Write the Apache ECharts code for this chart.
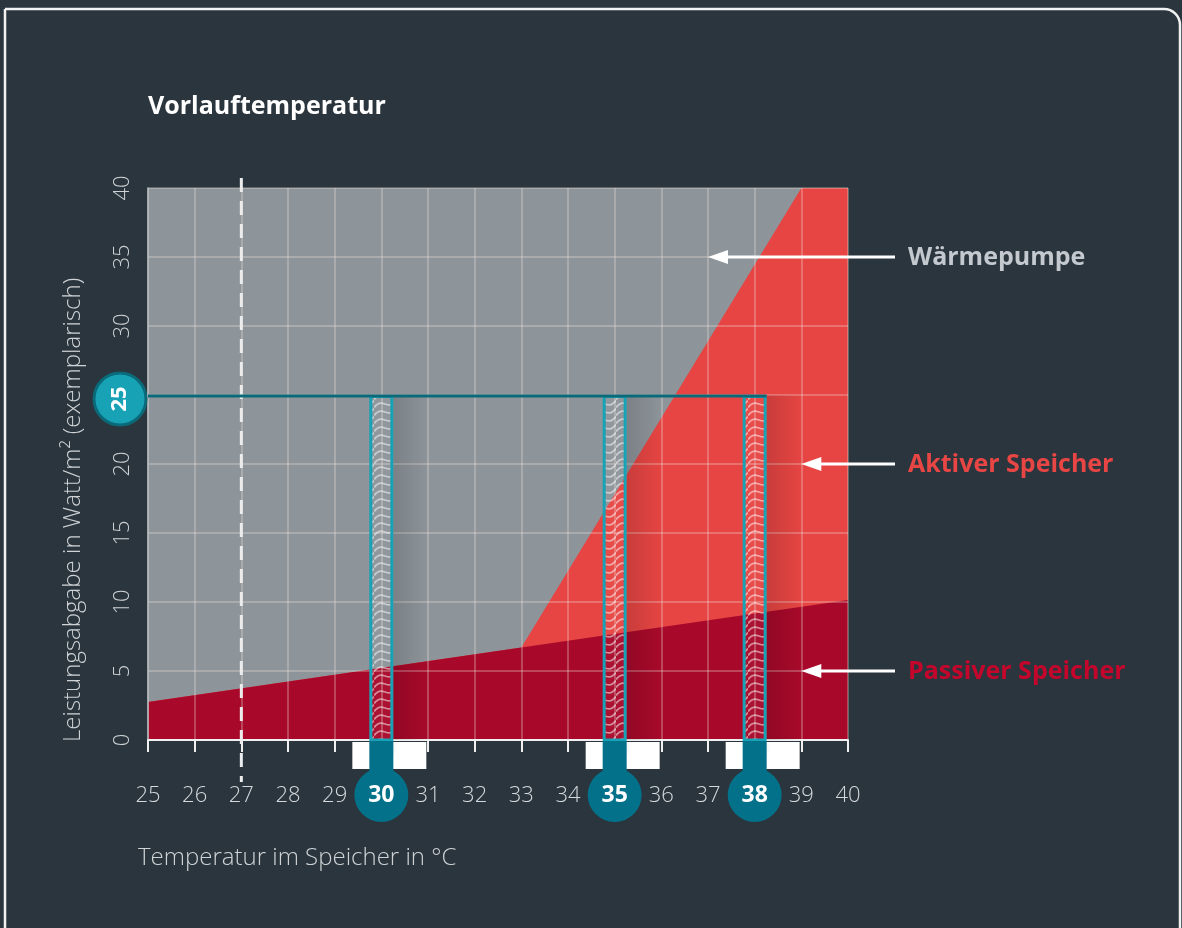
<!DOCTYPE html>
<html><head><meta charset="utf-8">
<script src="https://cdn.jsdelivr.net/npm/echarts@6/dist/echarts.min.js"></script>
<style>html,body{margin:0;padding:0;background:#2a353d;overflow:hidden}#c{width:1182px;height:928px}</style>
</head><body><div id="c"></div>
<script>
// ---- data ----
const xTicks = [25,26,27,28,29,30,31,32,33,34,35,36,37,38,39,40];
const yTicks = [0,5,10,15,20,25,30,35,40];
const heatPumpArea = [[25,40],[40,40]];
const activeArea = [[25,2.75],[33,6.7],[39,40],[40,40]];
const passiveArea = [[25,2.75],[33,6.7],[40,10.15]];
const storageTemps = [30,35,38];
const outputLevel = 25;
const flowTemp = 27;
const legendNames = ['Wärmepumpe','Aktiver Speicher','Passiver Speicher'];
const legendTargets = [[37,35],[39,20],[39,5]];
const legendColors = ['#c3c9ce','#e84545','#c4062c'];

const FONT = '"Open Sans", Roboto, sans-serif';

// wavy pattern
const pat = document.createElement('canvas');
pat.width = 22; pat.height = 8;
(function(){
  const g = pat.getContext('2d');
  g.strokeStyle = 'rgba(255,255,255,0.5)';
  g.lineWidth = 1.8;
  g.beginPath();
  g.moveTo(0,7.5);
  g.bezierCurveTo(9,-4,13,12,22,0.5);
  g.stroke();
})();

const chart = echarts.init(document.getElementById('c'), null, {renderer:'canvas'});
chart.setOption({
  backgroundColor:'#2a353d',
  animation:false,
  grid:{left:148,right:334,top:188,bottom:188},
  xAxis:{
    type:'value',min:25,max:40,interval:1,z:3,
    axisLine:{show:true,lineStyle:{color:'#f0f0f0',width:2}},
    axisTick:{show:true,length:12,lineStyle:{color:'#f0f0f0',width:2}},
    axisLabel:{margin:45,fontSize:22,fontWeight:300,fontFamily:FONT,color:'#d5d9dc',
      formatter:v=>storageTemps.includes(v)?'':String(v)},
    splitLine:{show:true,lineStyle:{color:'rgba(238,228,224,0.38)',width:1.5}}
  },
  yAxis:{
    type:'value',min:0,max:40,interval:5,z:3,
    axisLine:{show:true,lineStyle:{color:'#b9bec2',width:1.5}},
    axisTick:{show:false},
    axisLabel:{rotate:90,margin:14,fontSize:22,fontWeight:300,fontFamily:FONT,color:'#cfd3d6',
      formatter:v=>v===outputLevel?'':String(v)},
    splitLine:{show:true,lineStyle:{color:'rgba(238,228,224,0.38)',width:1.5}}
  },
  graphic:[
    {type:'rect',z:-1,shape:{x:5,y:9,width:1175,height:1000,r:[0,16,0,0]},style:{fill:'none',stroke:'#f2f2f2',lineWidth:2.5}},
    {type:'text',x:148,y:107,style:{text:'Vorlauftemperatur',fill:'#ffffff',font:'bold 25px '+FONT,align:'left',verticalAlign:'middle'}},
    {type:'text',x:138,y:858,style:{text:'Temperatur im Speicher in °C',fill:'#cfd3d6',font:'300 24px '+FONT,align:'left',verticalAlign:'middle'}},
    {type:'text',x:73,y:742,rotation:Math.PI/2,style:{text:'Leistungsabgabe in Watt/m² (exemplarisch)',fill:'#cfd3d6',font:'300 24px '+FONT,align:'left',verticalAlign:'middle'}}
  ],
  series:[
    {type:'line',name:'Wärmepumpe',data:heatPumpArea,symbol:'none',z:1,lineStyle:{width:0},areaStyle:{color:'#8d949a',opacity:1}},
    {type:'line',name:'Aktiver Speicher',data:activeArea,symbol:'none',z:1,lineStyle:{width:0},areaStyle:{color:'#e64543',opacity:1}},
    {type:'line',name:'Passiver Speicher',data:passiveArea,symbol:'none',z:1,lineStyle:{width:0},areaStyle:{color:'#a8092a',opacity:1}},
    // dashed flow temperature line
    {type:'custom',z:6,data:[[flowTemp]],renderItem:function(p,api){
      const t=api.coord([api.value(0),40]), b=api.coord([api.value(0),0]);
      return {type:'line',shape:{x1:t[0],y1:t[1]-10,x2:b[0],y2:b[1]+42},style:{stroke:'#ececec',lineWidth:3,lineDash:[14,9]}};
    }},
    // level line at 25
    {type:'custom',z:7,data:[[outputLevel]],renderItem:function(p,api){
      const s=api.coord([25,api.value(0)]), e=api.coord([storageTemps[storageTemps.length-1],api.value(0)]);
      return {type:'group',children:[
        {type:'line',shape:{x1:s[0],y1:s[1]+1,x2:e[0]+12,y2:s[1]+1},style:{stroke:'#0b6a7a',lineWidth:3}},
        {type:'circle',shape:{cx:s[0]-28,cy:s[1]+4,r:26},style:{fill:'#17a2b6',stroke:'#0b6a7a',lineWidth:3}},
        {type:'text',x:s[0]-28,y:s[1]+4,rotation:Math.PI/2,style:{text:String(api.value(0)),fill:'#ffffff',font:'bold 22px '+FONT,align:'center',verticalAlign:'middle'}}
      ]};
    }},
    // thermometers
    {type:'custom',z:6,data:storageTemps.map(t=>[t,outputLevel]),renderItem:function(p,api){
      const top=api.coord([api.value(0),api.value(1)]), bot=api.coord([api.value(0),0]);
      const cx=top[0], w=24, h=bot[1]-top[1];
      return {type:'group',children:[
        {type:'rect',shape:{x:cx+w/2,y:top[1],width:36,height:h},style:{fill:{type:'linear',x:0,y:0,x2:1,y2:0,colorStops:[{offset:0,color:'rgba(0,0,0,0.13)'},{offset:1,color:'rgba(0,0,0,0)'}]}}},
        {type:'rect',shape:{x:cx-w/2,y:top[1],width:w,height:h},style:{fill:'rgba(255,255,255,0.04)'}},
        {type:'rect',shape:{x:cx-w/2+2,y:top[1]+2,width:w-4,height:h-2},style:{fill:{image:pat,repeat:'repeat'}}},
        {type:'rect',shape:{x:cx-w/2+1.5,y:top[1]+1.5,width:w-3,height:h-1.5},style:{fill:'none',stroke:'#17a2b6',lineWidth:3}},
        {type:'rect',shape:{x:cx-29,y:bot[1]+2,width:29,height:27},style:{fill:'#ffffff'}},
        {type:'rect',shape:{x:cx,y:bot[1]+2,width:45,height:27},style:{fill:{type:'radial',x:0.1,y:0.2,r:0.9,colorStops:[{offset:0,color:'#e4e6e8'},{offset:0.5,color:'#ffffff'},{offset:1,color:'#ffffff'}]}}},
        {type:'rect',shape:{x:cx-w/2,y:bot[1]+1,width:w,height:32},style:{fill:'#03718a'}},
        {type:'circle',shape:{cx:cx,cy:bot[1]+55,r:27},style:{fill:'#03718a'}},
        {type:'text',x:cx,y:bot[1]+55,style:{text:String(api.value(0)),fill:'#ffffff',font:'bold 23px '+FONT,align:'center',verticalAlign:'middle'}}
      ]};
    }},
    // legend arrows
    {type:'custom',z:7,data:legendTargets,renderItem:function(p,api){
      const tip=api.coord([api.value(0),api.value(1)]);
      const i=p.dataIndex, tail=895;
      return {type:'group',children:[
        {type:'line',shape:{x1:tip[0]+16,y1:tip[1],x2:tail,y2:tip[1]},style:{stroke:'#ffffff',lineWidth:3}},
        {type:'polygon',shape:{points:[[tip[0],tip[1]],[tip[0]+20,tip[1]-7],[tip[0]+20,tip[1]+7]]},style:{fill:'#ffffff'}},
        {type:'text',x:908,y:tip[1]+1,style:{text:legendNames[i],fill:legendColors[i],font:'bold 25px '+FONT,align:'left',verticalAlign:'middle'}}
      ]};
    }}
  ]
});
</script></body></html>
